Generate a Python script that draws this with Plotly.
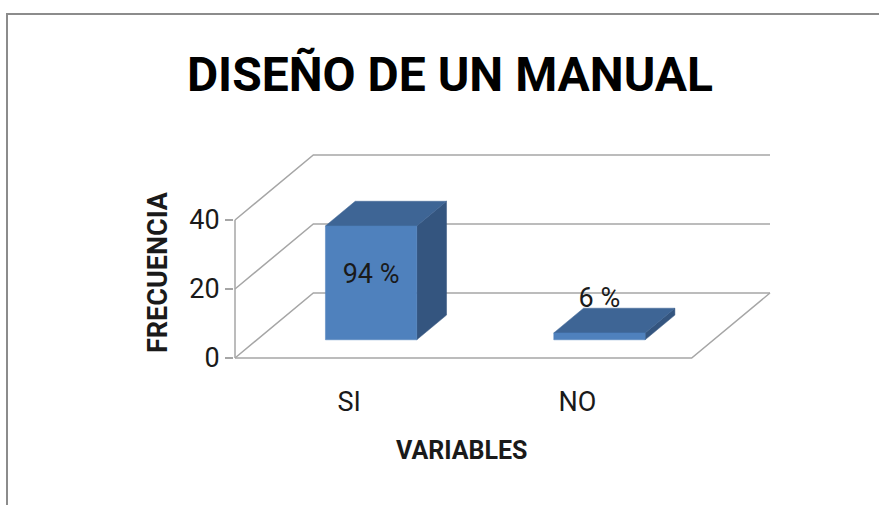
import plotly.graph_objects as go

categorias = ["SI", "NO"]
frecuencia = [33, 2]
etiquetas = ["94 %", "6 %"]
ticks_y = [0, 20, 40]

ANCHO, ALTO = 879, 505
M_IZQ, M_DER, M_SUP, M_INF = 234, 107, 153, 145

# proyeccion oblicua para imitar el grafico 3D de Excel (unidades de los ejes)
PROF_X = 0.343
PROF_Y = 18.84
MEDIO_BARRA = 0.2
D0, D1 = 0.28, 0.66

GRIS = '#A6A6A6'
FUENTE = 'Roboto, Lato, sans-serif'
TEXTO = '#1a1a1a'


def proy(x, v, d):
    return x + d * PROF_X, v + d * PROF_Y


def px_a_papel(px, py):
    ancho_area = ANCHO - M_IZQ - M_DER
    alto_area = ALTO - M_SUP - M_INF
    return (px - M_IZQ) / ancho_area, (ALTO - M_INF - py) / alto_area


fig = go.Figure()


def linea(puntos, color=GRIS, grosor=1.5):
    xs, ys = zip(*[proy(*p) for p in puntos])
    fig.add_trace(go.Scatter(x=xs, y=ys, mode='lines',
                             line=dict(color=color, width=grosor),
                             hoverinfo='skip', showlegend=False))


x_ini, x_fin = -0.5, len(categorias) - 0.5

# paredes y piso
for v in ticks_y:
    linea([(x_ini, v, 0), (x_ini, v, 1), (x_fin, v, 1)])
linea([(x_ini, 0, 0), (x_fin, 0, 0), (x_fin, 0, 1)])
linea([(x_ini, 0, 0), (x_ini, max(ticks_y), 0)])

# barras
for i, v in enumerate(frecuencia):
    x0, x1 = i - MEDIO_BARRA, i + MEDIO_BARRA
    caras = [
        ('#34557F', [(x1, 0, D0), (x1, 0, D1), (x1, v, D1), (x1, v, D0)]),
        ('#3E6595', [(x0, v, D0), (x1, v, D0), (x1, v, D1), (x0, v, D1)]),
        ('#4F81BD', [(x0, 0, D0), (x1, 0, D0), (x1, v, D0), (x0, v, D0)]),
    ]
    for color, pts in caras:
        xs, ys = zip(*[proy(*p) for p in pts])
        fig.add_trace(go.Scatter(x=list(xs) + [xs[0]], y=list(ys) + [ys[0]],
                                 mode='lines', fill='toself', fillcolor=color,
                                 line=dict(color=color, width=0.5),
                                 hoverinfo='skip', showlegend=False))

# etiquetas de datos
lx, ly = [], []
for i, v in enumerate(frecuencia):
    x, _ = proy(i, v, D0)
    if v > 10:
        _, y = proy(i, v / 2 + 2, D0)
    else:
        _, y = proy(i, v + 2.4, D1)
    lx.append(x)
    ly.append(y)
fig.add_trace(go.Scatter(x=lx, y=ly, mode='text', text=etiquetas,
                         textfont=dict(family=FUENTE, size=27, color=TEXTO),
                         cliponaxis=False, hoverinfo='skip', showlegend=False))

x_rango = [x_ini - 1 / 228.3, x_fin + PROF_X + 2 / 228.3]
y_rango = [-0.58, max(ticks_y) + PROF_Y + 0.58]

# marco gris
bx0, by0 = px_a_papel(7, 14)
bx1, by1 = px_a_papel(ANCHO + 5, ALTO + 5)

ax_f, ay_f = px_a_papel(158, 272)
ax_v, ay_v = px_a_papel(462, 450)

fig.update_layout(
    width=ANCHO,
    height=ALTO,
    margin=dict(l=M_IZQ, r=M_DER, t=M_SUP, b=M_INF),
    paper_bgcolor='white',
    plot_bgcolor='white',
    showlegend=False,
    title=dict(
        text='<b>DISEÑO DE UN MANUAL</b>',
        font=dict(family=FUENTE, size=48, color='black'),
        xref='container', yref='container',
        x=450 / ANCHO, y=1 - 74 / ALTO,
        xanchor='center', yanchor='middle',
    ),
    xaxis=dict(
        range=x_rango,
        tickvals=list(range(len(categorias))),
        ticktext=categorias,
        showgrid=False, zeroline=False, showline=False,
        ticks='',
        ticklabelstandoff=23,
        tickfont=dict(family=FUENTE, size=27, color=TEXTO),
        fixedrange=True,
    ),
    yaxis=dict(
        range=y_rango,
        tickvals=ticks_y,
        showgrid=False, zeroline=False, showline=False,
        ticks='outside', ticklen=8, tickcolor=GRIS, tickwidth=1.5,
        tickfont=dict(family=FUENTE, size=27, color=TEXTO),
        fixedrange=True,
    ),
    shapes=[
        dict(type='rect', xref='paper', yref='paper',
             x0=bx0, y0=by1, x1=bx1, y1=by0,
             line=dict(color='#8C8C8C', width=2), fillcolor='rgba(0,0,0,0)'),
    ],
    annotations=[
        dict(text='<b>FRECUENCIA</b>', xref='paper', yref='paper',
             x=ax_f, y=ay_f, textangle=-90, showarrow=False,
             font=dict(family=FUENTE, size=27, color=TEXTO),
             xanchor='center', yanchor='middle'),
        dict(text='<b>VARIABLES</b>', xref='paper', yref='paper',
             x=ax_v, y=ay_v, showarrow=False,
             font=dict(family=FUENTE, size=25, color=TEXTO),
             xanchor='center', yanchor='middle'),
    ],
)

fig.write_html("out.html", config={'displayModeBar': False},
               post_script="document.body.style.margin='0';")
